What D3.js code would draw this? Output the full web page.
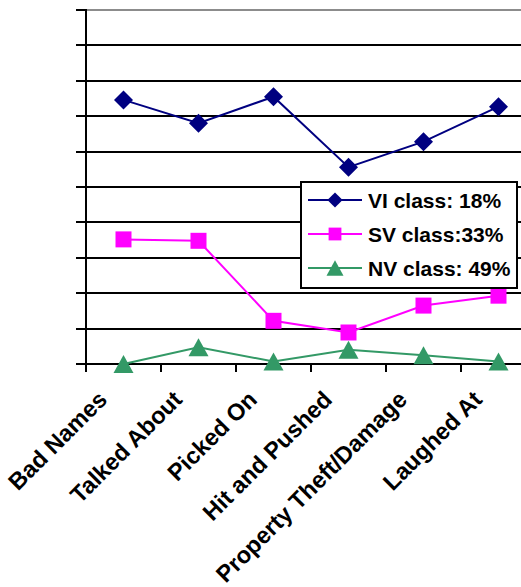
<!DOCTYPE html>
<html>
<head>
<meta charset="utf-8">
<script src="https://cdn.jsdelivr.net/npm/d3@7"></script>
<style>
  html, body { margin: 0; padding: 0; background: #fff; }
  svg { display: block; font-family: "Liberation Sans", Arial, sans-serif; }
</style>
</head>
<body>
<svg id="chart" width="521" height="587"></svg>
<script>
// Bullying type profiles for the three latent classes
const categories = ["Bad Names", "Talked About", "Picked On", "Hit and Pushed", "Property Theft/Damage", "Laughed At"];
const viValues = [0.746, 0.680, 0.755, 0.556, 0.628, 0.727];
const svValues = [0.352, 0.348, 0.122, 0.089, 0.165, 0.193];
const nvValues = [0.000, 0.047, 0.007, 0.040, 0.025, 0.007];
const seriesNames = ["VI class: 18%", "SV class:33%", "NV class: 49%"];
const yTicks = [0, 0.1, 0.2, 0.3, 0.4, 0.5, 0.6, 0.7, 0.8, 0.9, 1.0];

const series = [
  { name: seriesNames[0], values: viValues, color: "#000080", marker: "diamond" },
  { name: seriesNames[1], values: svValues, color: "#ff00ff", marker: "square" },
  { name: seriesNames[2], values: nvValues, color: "#339966", marker: "triangle" }
];

const svg = d3.select("#chart");
const plot = { left: 86, right: 536, top: 10, bottom: 364 };

const x = d3.scaleBand().domain(categories).range([plot.left, plot.right]);
const y = d3.scaleLinear().domain([0, 1]).range([plot.bottom, plot.top]);
// Pixel-snapped copy for crisp rules
const yGrid = y.copy().interpolate(d3.interpolateRound);

// Horizontal gridlines; the top edge of the plot area is grey
svg.append("g").selectAll("line")
  .data(yTicks.filter(t => t > 0))
  .join("line")
  .attr("x1", plot.left).attr("x2", plot.right)
  .attr("y1", d => yGrid(d)).attr("y2", d => yGrid(d))
  .attr("stroke", d => d === 1 ? "#8c8c8c" : "#000")
  .attr("stroke-width", 2);

// Value axis: ticks only, no labels
const yAxis = svg.append("g")
  .attr("transform", `translate(${plot.left},0)`)
  .call(d3.axisLeft(yGrid).tickValues(yTicks).tickSize(10).tickFormat("").offset(0));
yAxis.select(".domain").attr("stroke", "#000").attr("stroke-width", 2)
  .attr("d", `M0,${plot.top - 1}V${plot.bottom + 8}`);
yAxis.selectAll(".tick line").attr("stroke", "#000").attr("stroke-width", 2);

// Category axis line with tick marks between categories
svg.append("line")
  .attr("x1", plot.left).attr("x2", plot.right)
  .attr("y1", plot.bottom).attr("y2", plot.bottom)
  .attr("stroke", "#000").attr("stroke-width", 2);
svg.append("g").selectAll("line")
  .data(categories)
  .join("line")
  .attr("x1", d => x(d)).attr("x2", d => x(d))
  .attr("y1", plot.bottom).attr("y2", plot.bottom + 8)
  .attr("stroke", "#000").attr("stroke-width", 2);

// Rotated category labels
svg.append("g").selectAll("text")
  .data(categories)
  .join("text")
  .attr("transform", d => `translate(${x(d) + x.bandwidth() / 2 - 15},401) rotate(-45)`)
  .attr("text-anchor", "end")
  .attr("font-size", 23.5)
  .attr("font-weight", "bold")
  .attr("fill", "#000")
  .text(d => d);

// Marker shapes
function markerPath(kind, scale) {
  if (kind === "diamond") {
    const r = 9.5 * scale;
    return `M0,${-r}L${r},0L0,${r}L${-r},0Z`;
  }
  if (kind === "square") {
    const h = 8 * scale;
    return `M${-h},${-h}H${h}V${h}H${-h}Z`;
  }
  const w = 10 * scale, hh = 9 * scale;
  return `M0,${-hh}L${w},${hh}L${-w},${hh}Z`;
}

const line = d3.line()
  .x((d, i) => x(categories[i]) + x.bandwidth() / 2)
  .y(d => y(d));

// Series lines and markers
const seriesG = svg.append("g").selectAll("g")
  .data(series)
  .join("g");

seriesG.append("path")
  .attr("d", d => line(d.values))
  .attr("fill", "none")
  .attr("stroke", d => d.color)
  .attr("stroke-width", 2);

seriesG.each(function(s) {
  d3.select(this).selectAll(".mk")
    .data(s.values)
    .join("path")
    .attr("class", "mk")
    .attr("transform", (d, i) => `translate(${x(categories[i]) + x.bandwidth() / 2},${y(d)})`)
    .attr("d", markerPath(s.marker, 1))
    .attr("fill", s.color);
});

// Legend
const legend = svg.append("g").attr("transform", "translate(301,182)");
legend.append("rect")
  .attr("width", 216).attr("height", 106)
  .attr("fill", "#fff").attr("stroke", "#000").attr("stroke-width", 2);

const rows = legend.selectAll(".row")
  .data(series)
  .join("g")
  .attr("class", "row")
  .attr("transform", (d, i) => `translate(0,${[18, 52, 86][i]})`);

rows.append("line")
  .attr("x1", 7).attr("x2", 61)
  .attr("stroke", d => d.color).attr("stroke-width", 2);
rows.append("path")
  .attr("transform", "translate(34,0)")
  .attr("d", d => markerPath(d.marker, d.marker === "triangle" ? 0.85 : 0.8))
  .attr("fill", d => d.color);
rows.append("text")
  .attr("x", 67).attr("y", 7.5)
  .attr("font-size", 21)
  .attr("font-weight", "bold")
  .attr("fill", "#000")
  .text(d => d.name);
</script>
</body>
</html>
